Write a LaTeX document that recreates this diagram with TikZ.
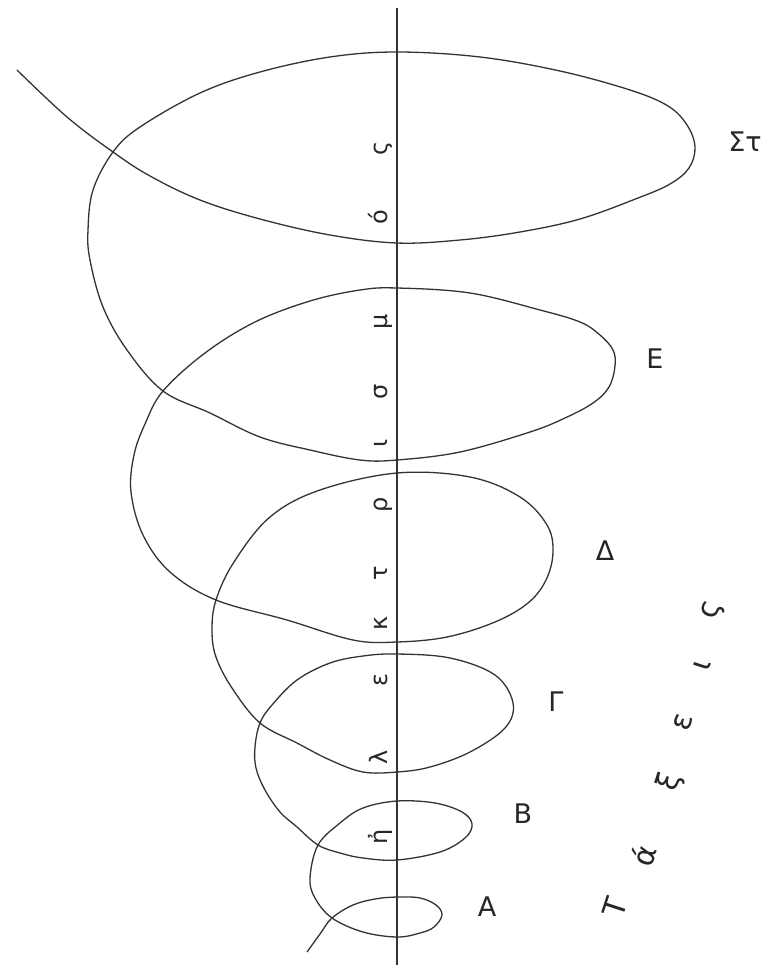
\documentclass[tikz,border=0pt]{standalone}
\usepackage{fontspec}
\setmainfont{DejaVu Sans}
\begin{document}
\begin{tikzpicture}[x=1pt,y=-1pt,
  ink/.style={draw=black!80, line width=1.3pt},
  axl/.style={text=black!85, font=\fontsize{24}{26}\selectfont, rotate=90, anchor=base, inner sep=0pt},
  numl/.style={text=black!85, font=\fontsize{27}{29}\selectfont, inner sep=0pt},
  tax/.style={text=black!85, font=\fontsize{30}{32}\selectfont, rotate=72, inner sep=0pt}]
\useasboundingbox (0,0) rectangle (770,969);
\fill[white] (0,0) rectangle (770,969);
% axis
\coordinate (axtop) at (397,8);
\coordinate (axbot) at (397,965);
\draw[ink] (axtop) -- (axbot);
% spiral
\draw[ink] plot[smooth, tension=0.6] coordinates {
 (307,952) (320,934) (332,918) (353,905) (375,899) (397,897) (420,898) (436,905) (442,915) (434,927) (420,933) (397,937) (363,932) (332,918) (315,898) (310,878)
 (318,845) (340,823) (363,808) (397,801) (435,803) (462,812) (472,824) (465,838) (440,852) (397,860) (363,858) (340,853) (318,845) (297,827) (280,812)
 (265,790) (256,768) (255,747) (260,723) (272,705) (297,680) (330,663) (363,656) (397,654) (450,658) (495,675) (513,703) (505,728) (470,752) (430,767) (397,772)
 (363,772) (330,760) (297,743) (260,723) (232,688) (216,657) (212,630) (216,600) (234,562) (270,517) (320,490) (397,473) (470,477) (520,497) (547,525) (553,552) (546,580) (528,603) (495,622) (447,637) (397,642)
 (353,640) (287,620) (216,600) (170,572) (143,535) (131,492) (134,455) (145,424) (163,391) (205,353) (255,322) (310,301) (360,290) (397,288) (470,293) (540,310) (580,322) (600,335) (613,350) (615,366) (609,387) (593,403) (565,418) (530,432) (460,452) (397,460)
 (360,460) (310,450) (260,437) (210,413) (163,391) (127,350) (103,307) (90,260) (88,230) (93,190) (113,152) (140,127) (200,93) (260,72) (330,57) (397,52) (480,57) (560,71) (630,90) (668,106) (687,125) (695,147) (689,168) (670,184) (638,198) (580,219) (520,232) (460,240) (397,243)
 (330,235) (260,219) (200,200) (150,176) (113,152) (67,117) (17,70)
};
% axis letters
\node[axl] (a1) at (387,837) {ἠ};
\node[axl] (a2) at (387,757) {λ};
\node[axl] (a3) at (387,680) {ε};
\node[axl] (a4) at (387,623) {κ};
\node[axl] (a5) at (387,573) {τ};
\node[axl] (a6) at (387,505) {ρ};
\node[axl] (a7) at (387,443) {ι};
\node[axl] (a8) at (387,392) {σ};
\node[axl] (a9) at (387,322) {μ};
\node[axl] (a10) at (387,217) {ό};
\node[axl] (a11) at (387,148) {ς};
% loop numerals
\node[numl] (nA) at (487,907) {Α};
\node[numl] (nB) at (523,814) {Β};
\node[numl] (nG) at (556,702) {Γ};
\node[numl] (nD) at (605,551) {Δ};
\node[numl] (nE) at (655,359) {Ε};
\node[numl] (nS) at (745,142) {Στ};
% Taxeis
\node[tax] (t1) at (615,907) {Τ};
\node[tax] (t2) at (643,855) {ά};
\node[tax] (t3) at (670,782) {ξ};
\node[tax] (t4) at (683,722) {ε};
\node[tax] (t5) at (702,665) {ι};
\node[tax] (t6) at (713,610) {ς};
\end{tikzpicture}
\end{document}
